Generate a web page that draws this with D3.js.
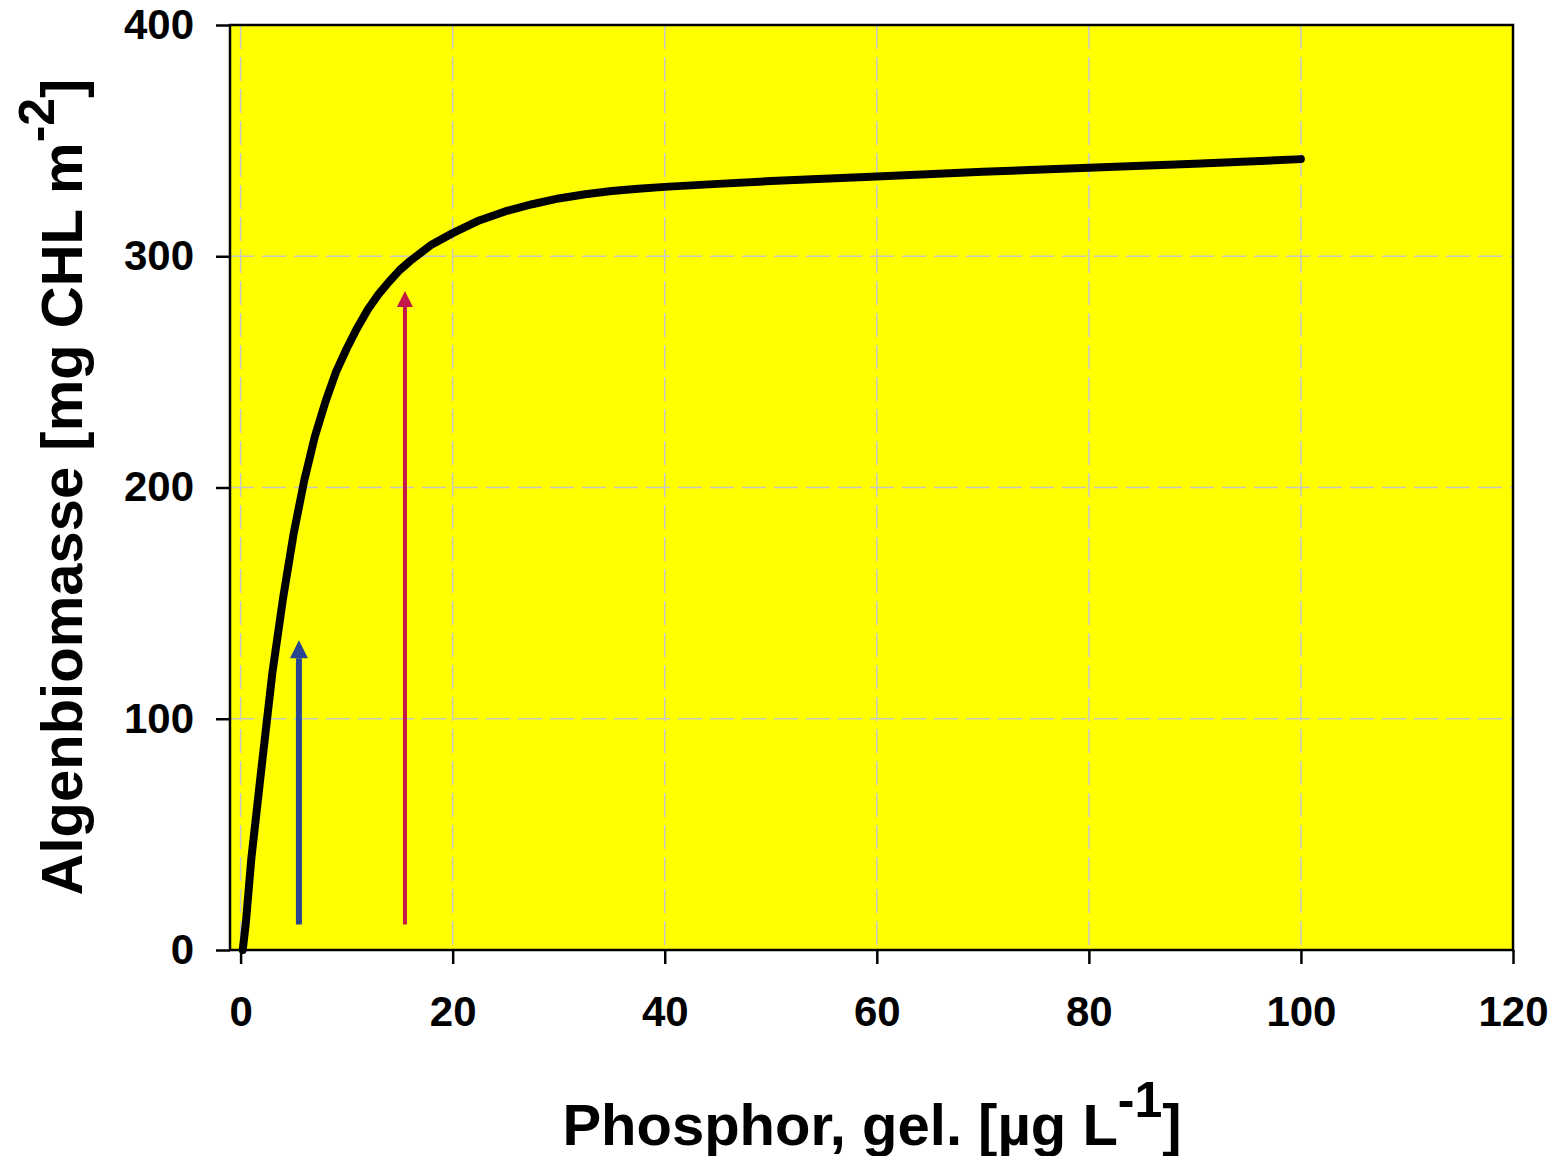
<!DOCTYPE html>
<html>
<head>
<meta charset="utf-8">
<script src="https://cdn.jsdelivr.net/npm/d3@7"></script>
<style>
  body { margin: 0; background: #fff; }
  text { font-family: "Liberation Sans", Arial, sans-serif; font-weight: bold; }
</style>
</head>
<body>
<svg width="1556" height="1156"></svg>
<script>
// curve
var phosphor = [0.2, 0.5, 1, 2, 3, 4, 5, 6, 7, 8, 9, 10, 11, 12, 13, 14, 15, 16, 18, 20, 22.5, 25, 27.5, 30, 32.5, 35, 37.5, 40, 45, 50, 60, 70, 80, 90, 100];
var biomass = [0, 12, 39, 80, 120, 152, 180, 203, 222, 237, 250, 260, 269, 277, 283.5, 289, 294, 298, 305, 310, 315.5, 319.5, 322.5, 325, 326.8, 328.2, 329.2, 330, 331.3, 332.5, 334.5, 336.5, 338.3, 340, 342];

// the two arrows
var arrowX = [5.5, 15.5];
var arrowFrom = [11, 11];
var arrowTo = [134, 285];
var arrowColor = ["#29468f", "#c2184a"];
var arrowWidth = [6, 4];
var arrowHead = [18, 16];

var xTicks = [0, 20, 40, 60, 80, 100, 120];
var yTicks = [0, 100, 200, 300, 400];
var xGrid = [0, 20, 40, 60, 80, 100];
var yGrid = [100, 200, 300];

var plotLeft = 230, plotRight = 1513, plotTop = 25, plotBottom = 950;

var svg = d3.select("svg");

var x = d3.scaleLinear().domain([-1, 120]).range([plotLeft, plotRight]);
var y = d3.scaleLinear().domain([0, 400]).range([plotBottom, plotTop]);

// plot background
svg.append("rect")
    .attr("x", plotLeft).attr("y", plotTop)
    .attr("width", plotRight - plotLeft).attr("height", plotBottom - plotTop)
    .attr("fill", "#ffff00");

// dashed grid
svg.selectAll(".vgrid").data(xGrid).enter().append("line")
    .attr("x1", function (d) { return x(d); }).attr("x2", function (d) { return x(d); })
    .attr("y1", plotTop).attr("y2", plotBottom)
    .attr("stroke", "#c8c8c8").attr("stroke-width", 1.5)
    .attr("stroke-dasharray", "24,8");
svg.selectAll(".hgrid").data(yGrid).enter().append("line")
    .attr("y1", function (d) { return y(d); }).attr("y2", function (d) { return y(d); })
    .attr("x1", plotLeft).attr("x2", plotRight)
    .attr("stroke", "#c8c8c8").attr("stroke-width", 1.5)
    .attr("stroke-dasharray", "24,8");

// arrows
arrowX.forEach(function (a, i) {
    var ax = x(a), tip = y(arrowTo[i]), h = arrowHead[i];
    svg.append("line")
        .attr("x1", ax).attr("x2", ax)
        .attr("y1", y(arrowFrom[i])).attr("y2", tip + h)
        .attr("stroke", arrowColor[i]).attr("stroke-width", arrowWidth[i]);
    svg.append("path")
        .attr("d", "M" + ax + "," + tip + "L" + (ax + h / 2) + "," + (tip + h) + "L" + (ax - h / 2) + "," + (tip + h) + "Z")
        .attr("fill", arrowColor[i]);
});

// the curve
var line = d3.line()
    .x(function (d, i) { return x(phosphor[i]); })
    .y(function (d) { return y(d); });
svg.append("path")
    .datum(biomass)
    .attr("d", line)
    .attr("fill", "none")
    .attr("stroke", "#000")
    .attr("stroke-width", 8)
    .attr("stroke-linecap", "round")
    .attr("stroke-linejoin", "round");

// frame
svg.append("rect")
    .attr("x", plotLeft).attr("y", plotTop)
    .attr("width", plotRight - plotLeft).attr("height", plotBottom - plotTop)
    .attr("fill", "none").attr("stroke", "#000").attr("stroke-width", 2.5);

// axes
var xAxis = svg.append("g")
    .attr("transform", "translate(0," + plotBottom + ")")
    .call(d3.axisBottom(x).tickValues(xTicks).tickSize(14).tickPadding(32));
var yAxis = svg.append("g")
    .attr("transform", "translate(" + plotLeft + ",0)")
    .call(d3.axisLeft(y).tickValues(yTicks).tickSize(14).tickPadding(22));

[xAxis, yAxis].forEach(function (g) {
    g.select(".domain").remove();
    g.selectAll(".tick line").attr("stroke", "#000").attr("stroke-width", 2.5);
    g.selectAll(".tick text")
        .attr("fill", "#000")
        .style("font-size", "42px")
        .style("font-family", "'Liberation Sans', Arial, sans-serif")
        .style("font-weight", "bold");
});

// axis titles
var xt = svg.append("text")
    .attr("x", 872).attr("y", 1145)
    .attr("text-anchor", "middle")
    .style("font-size", "58px");
xt.append("tspan").text("Phosphor, gel. [µg L");
xt.append("tspan").attr("dy", -28).style("font-size", "50px").text("-1");
xt.append("tspan").attr("dy", 28).text("]");

var yt = svg.append("text")
    .attr("transform", "translate(82,487) rotate(-90)")
    .attr("text-anchor", "middle")
    .style("font-size", "58px");
yt.append("tspan").text("Algenbiomasse [mg CHL m");
yt.append("tspan").attr("dy", -28).style("font-size", "50px").text("-2");
yt.append("tspan").attr("dy", 28).text("]");
</script>
</body>
</html>
